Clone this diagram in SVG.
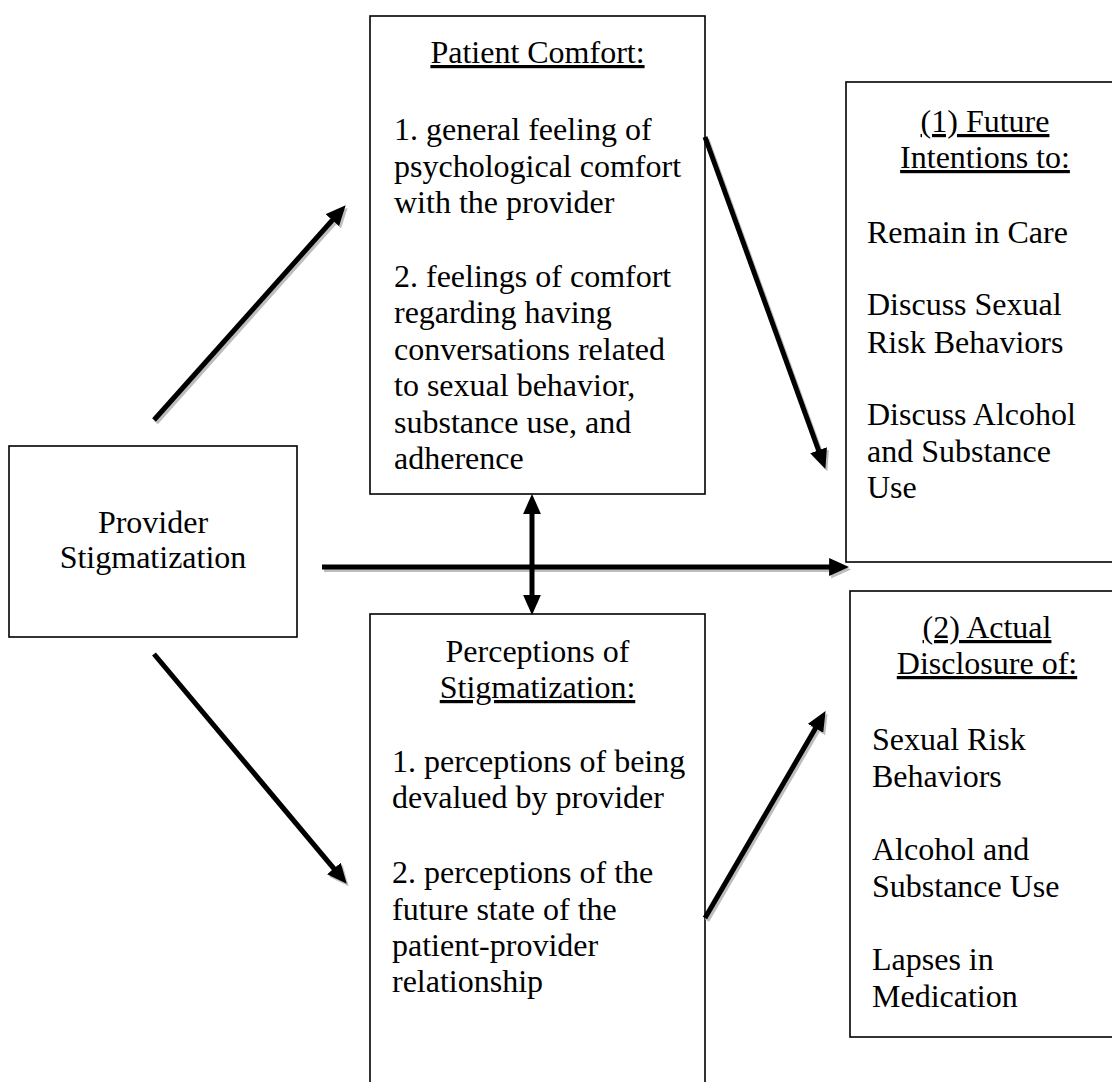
<svg xmlns="http://www.w3.org/2000/svg" width="1112" height="1082" viewBox="0 0 1112 1082">
<style>
.box{fill:#fff;stroke:#000;stroke-width:1.6}
text{font-family:"Liberation Serif","Times New Roman",serif;font-size:32px;fill:#000}
.c{text-anchor:middle}
.u{text-decoration:underline}
.ln{stroke:#000;stroke-width:5;fill:none;marker-end:url(#ah)}
.sh{stroke:#bdbdbd;stroke-width:5;fill:none;marker-end:url(#ahs)}
</style>
<defs>
<marker id="ah" markerUnits="userSpaceOnUse" markerWidth="20" markerHeight="18" refX="8" refY="8" orient="auto-start-reverse" viewBox="0 0 18 16">
<path d="M0,0 L18,8 L0,16 z" fill="#000"/>
</marker>
<marker id="ahs" markerUnits="userSpaceOnUse" markerWidth="20" markerHeight="18" refX="8" refY="8" orient="auto" viewBox="0 0 18 16">
<path d="M0,0 L18,8 L0,16 z" fill="#bdbdbd"/>
</marker>
</defs>
<rect width="1112" height="1082" fill="#fff"/>

<g id="provider">
<rect class="box" x="9" y="446" width="288" height="191"/>
<text class="c" x="153" y="533">Provider</text>
<text class="c" x="153" y="568">Stigmatization</text>
</g>

<g id="comfort">
<rect class="box" x="370" y="16" width="335" height="478"/>
<text class="c u" x="537.5" y="63">Patient Comfort:</text>
<text x="394" y="140">1. general feeling of</text>
<text x="394" y="177">psychological comfort</text>
<text x="394" y="213">with the provider</text>
<text x="394" y="287">2. feelings of comfort</text>
<text x="394" y="323">regarding having</text>
<text x="394" y="360">conversations related</text>
<text x="394" y="396">to sexual behavior,</text>
<text x="394" y="433">substance use, and</text>
<text x="394" y="469">adherence</text>
</g>

<g id="perceptions">
<rect class="box" x="370" y="614" width="335" height="490"/>
<text class="c" x="537.5" y="662">Perceptions of</text>
<text class="c u" x="537.5" y="698">Stigmatization:</text>
<text x="392" y="772">1. perceptions of being</text>
<text x="392" y="808">devalued by provider</text>
<text x="392" y="883">2. perceptions of the</text>
<text x="392" y="920">future state of the</text>
<text x="392" y="956">patient-provider</text>
<text x="392" y="992">relationship</text>
</g>

<g id="future">
<rect class="box" x="846" y="82" width="278" height="480"/>
<text class="c u" x="985" y="132">(1) Future</text>
<text class="c u" x="985" y="168">Intentions to:</text>
<text x="867" y="243">Remain in Care</text>
<text x="867" y="315">Discuss Sexual</text>
<text x="867" y="353">Risk Behaviors</text>
<text x="867" y="425">Discuss Alcohol</text>
<text x="867" y="462">and Substance</text>
<text x="867" y="498">Use</text>
</g>

<g id="actual">
<rect class="box" x="850" y="591" width="274" height="446"/>
<text class="c u" x="987" y="638">(2) Actual</text>
<text class="c u" x="987" y="674">Disclosure of:</text>
<text x="872" y="750">Sexual Risk</text>
<text x="872" y="787">Behaviors</text>
<text x="872" y="860">Alcohol and</text>
<text x="872" y="897">Substance Use</text>
<text x="872" y="970">Lapses in</text>
<text x="872" y="1007">Medication</text>
</g>

<g id="connectors">
<g id="shadows" transform="translate(2,2.5)">
<line class="sh" x1="154" y1="420" x2="338.3" y2="213.5"/>
<line class="sh" x1="705" y1="137" x2="821.6" y2="458.6"/>
<line class="sh" x1="322" y1="567" x2="838" y2="567"/>
<line class="sh" x1="154" y1="654" x2="339.6" y2="875.3"/>
<line class="sh" x1="705" y1="918" x2="820" y2="720.6"/>
</g>
<line class="ln" x1="154" y1="420" x2="338.3" y2="213.5"/>
<line class="ln" x1="705" y1="137" x2="821.6" y2="458.6"/>
<line class="ln" x1="322" y1="567" x2="838" y2="567"/>
<line class="ln" x1="154" y1="654" x2="339.6" y2="875.3"/>
<line class="ln" x1="705" y1="918" x2="820" y2="720.6"/>
<line class="ln" x1="532" y1="505" x2="532" y2="604" style="marker-start:url(#ah)"/>
</g>
</svg>
